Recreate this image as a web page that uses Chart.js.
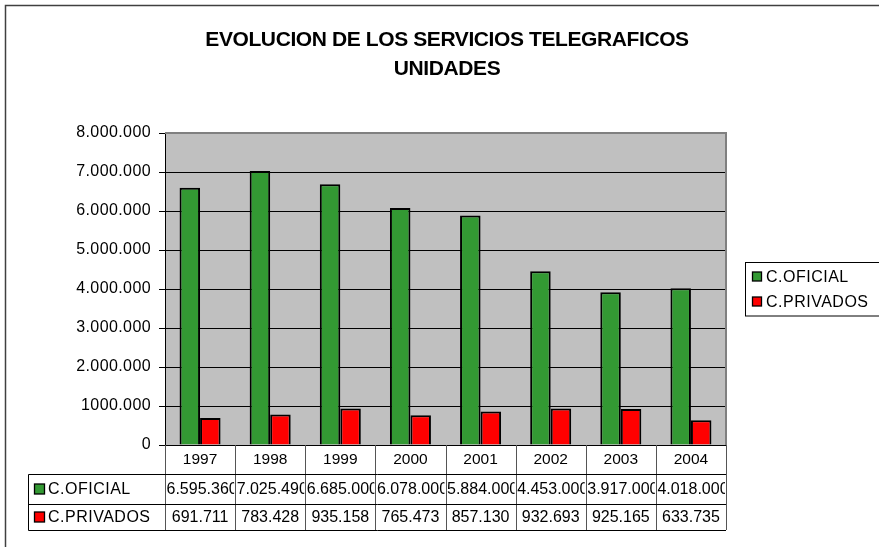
<!DOCTYPE html>
<html><head><meta charset="utf-8">
<script src="https://cdn.jsdelivr.net/npm/chart.js@4/dist/chart.umd.min.js"></script>
<style>html,body{margin:0;padding:0;background:#fff;}canvas{display:block;}</style>
</head><body>
<canvas id="c" width="879" height="547"></canvas>
<script>
const titleLines = ['EVOLUCION DE LOS SERVICIOS TELEGRAFICOS', 'UNIDADES'];
const categories = ['1997', '1998', '1999', '2000', '2001', '2002', '2003', '2004'];
const seriesNames = ['C.OFICIAL', 'C.PRIVADOS'];
const oficialValues = [6595360, 7025490, 6685000, 6078000, 5884000, 4453000, 3917000, 4018000];
const privadosValues = [691711, 783428, 935158, 765473, 857130, 932693, 925165, 633735];
const yTickLabels = ['0', '1000.000', '2.000.000', '3.000.000', '4.000.000', '5.000.000', '6.000.000', '7.000.000', '8.000.000'];

const FONT = '"Liberation Sans", Arial, sans-serif';
function fmt(v) { return String(v).replace(/\B(?=(\d{3})+(?!\d))/g, '.'); }

const decor = {
  id: 'decor',
  beforeDraw(chart) {
    const ctx = chart.ctx, ca = chart.chartArea;
    ctx.save();
    ctx.fillStyle = '#fff';
    ctx.fillRect(0, 0, chart.width, chart.height);
    ctx.fillStyle = '#C0C0C0';
    ctx.fillRect(ca.left, ca.top, ca.right - ca.left, ca.bottom - ca.top);
    ctx.restore();
    ctx.letterSpacing = '0.4px';
  },
  afterDraw(chart) {
    const ctx = chart.ctx, ca = chart.chartArea;
    ctx.save();
    ctx.letterSpacing = '0px';
    // plot area top/right border
    ctx.strokeStyle = '#808080';
    ctx.lineWidth = 2;
    ctx.beginPath();
    ctx.moveTo(ca.left, ca.top);
    ctx.lineTo(ca.right, ca.top);
    ctx.lineTo(ca.right, ca.bottom);
    ctx.stroke();

    // title
    ctx.fillStyle = '#000';
    ctx.font = 'bold 21px ' + FONT;
    ctx.letterSpacing = '-0.4px';
    ctx.textAlign = 'center';
    ctx.textBaseline = 'alphabetic';
    ctx.fillText(titleLines[0], 447, 45.5);
    ctx.fillText(titleLines[1], 447, 74.5);
    ctx.letterSpacing = '0px';

    // data table
    const n = categories.length;
    const w = (ca.right - ca.left) / n;
    const yTop = ca.bottom, r1 = ca.bottom + 29, r2 = r1 + 30, r3 = r2 + 26;
    const tableLeft = 28.5;
    ctx.lineWidth = 1;
    ctx.strokeStyle = '#555';
    for (let i = 0; i <= n; i++) {
      const x = Math.round(ca.left + i * w) + 0.5;
      ctx.beginPath();
      ctx.moveTo(x, yTop);
      ctx.lineTo(x, r3);
      ctx.stroke();
    }
    ctx.strokeStyle = '#000';
    ctx.beginPath();
    ctx.moveTo(tableLeft, r1 + 0.5); ctx.lineTo(ca.right, r1 + 0.5);
    ctx.moveTo(tableLeft, r2 + 0.5); ctx.lineTo(ca.right, r2 + 0.5);
    ctx.moveTo(tableLeft, r3 + 0.5); ctx.lineTo(ca.right, r3 + 0.5);
    ctx.moveTo(tableLeft, r1 + 0.5); ctx.lineTo(tableLeft, r3 + 0.5);
    ctx.stroke();

    ctx.textBaseline = 'middle';
    const rows = [
      { y: yTop + 15, texts: categories },
      { y: r1 + 16, texts: oficialValues.map(fmt) },
      { y: r2 + 14, texts: privadosValues.map(fmt) }
    ];
    rows.forEach((row, ri) => {
      ctx.font = (ri === 0 ? '15.5px ' : '16px ') + FONT;
      row.texts.forEach((t, i) => {
        const x0 = ca.left + i * w;
        const tw = ctx.measureText(t).width;
        ctx.save();
        ctx.beginPath();
        ctx.rect(x0 + 1, row.y - 12, w - 2, 24);
        ctx.clip();
        if (tw > w - 3) {
          ctx.textAlign = 'left';
          ctx.fillText(t, x0 + 1.5, row.y);
        } else {
          ctx.textAlign = 'center';
          ctx.fillText(t, x0 + w / 2, row.y);
        }
        ctx.restore();
      });
    });

    // table legend keys
    const colors = chart.data.datasets.map(d => d.backgroundColor);
    ctx.font = '16px ' + FONT;
    ctx.letterSpacing = '0.5px';
    ctx.textAlign = 'left';
    const keyRows = [r1 + 15, r2 + 13];
    keyRows.forEach((cy, k) => {
      ctx.fillStyle = colors[k];
      ctx.fillRect(34.5, cy - 5, 10, 10);
      ctx.strokeStyle = '#000';
      ctx.lineWidth = 1.3;
      ctx.strokeRect(34.5, cy - 5, 10, 10);
      ctx.fillStyle = '#000';
      ctx.fillText(seriesNames[k], 48, cy + 1);
    });

    // right legend
    ctx.strokeStyle = '#000';
    ctx.lineWidth = 1;
    ctx.strokeRect(745.5, 262.5, 200, 53.5);
    const legRows = [276.5, 301.5];
    legRows.forEach((cy, k) => {
      ctx.fillStyle = colors[k];
      ctx.fillRect(752.5, cy - 4.5, 9, 9);
      ctx.lineWidth = 1.3;
      ctx.strokeRect(752.5, cy - 4.5, 9, 9);
      ctx.fillStyle = '#000';
      ctx.fillText(seriesNames[k], 766, cy + 1);
    });
    ctx.letterSpacing = '0px';

    // outer chart border
    ctx.strokeStyle = '#404040';
    ctx.lineWidth = 1.5;
    ctx.strokeRect(5.5, 5.5, 900, 600);
    ctx.restore();
  }
};

new Chart(document.getElementById('c'), {
  type: 'bar',
  data: {
    labels: categories,
    datasets: [
      { label: seriesNames[0], data: oficialValues, backgroundColor: '#339933', borderColor: '#000', borderWidth: 2 },
      { label: seriesNames[1], data: privadosValues, backgroundColor: '#FF0000', borderColor: '#000', borderWidth: 2 }
    ]
  },
  options: {
    responsive: false,
    animation: false,
    devicePixelRatio: 1,
    layout: { padding: { left: 0, right: 153, top: 133, bottom: 102 } },
    datasets: { bar: { categoryPercentage: 0.585, barPercentage: 1.0 } },
    plugins: { legend: { display: false }, title: { display: false }, tooltip: { enabled: false } },
    scales: {
      x: { display: false, offset: true },
      y: {
        min: 0, max: 8000000,
        afterFit(scale) { scale.width = 165; },
        ticks: {
          stepSize: 1000000,
          padding: 8,
          color: '#000',
          font: { family: FONT, size: 16 },
          callback: (v, i) => yTickLabels[i]
        },
        grid: {
          color: (c) => (c.tick && c.tick.value === 8000000) ? 'rgba(0,0,0,0)' : '#000',
          tickColor: '#000',
          tickLength: 6,
          lineWidth: 1
        },
        border: { display: true, color: '#000', width: 1 }
      }
    }
  },
  plugins: [decor]
});
</script>
</body></html>
